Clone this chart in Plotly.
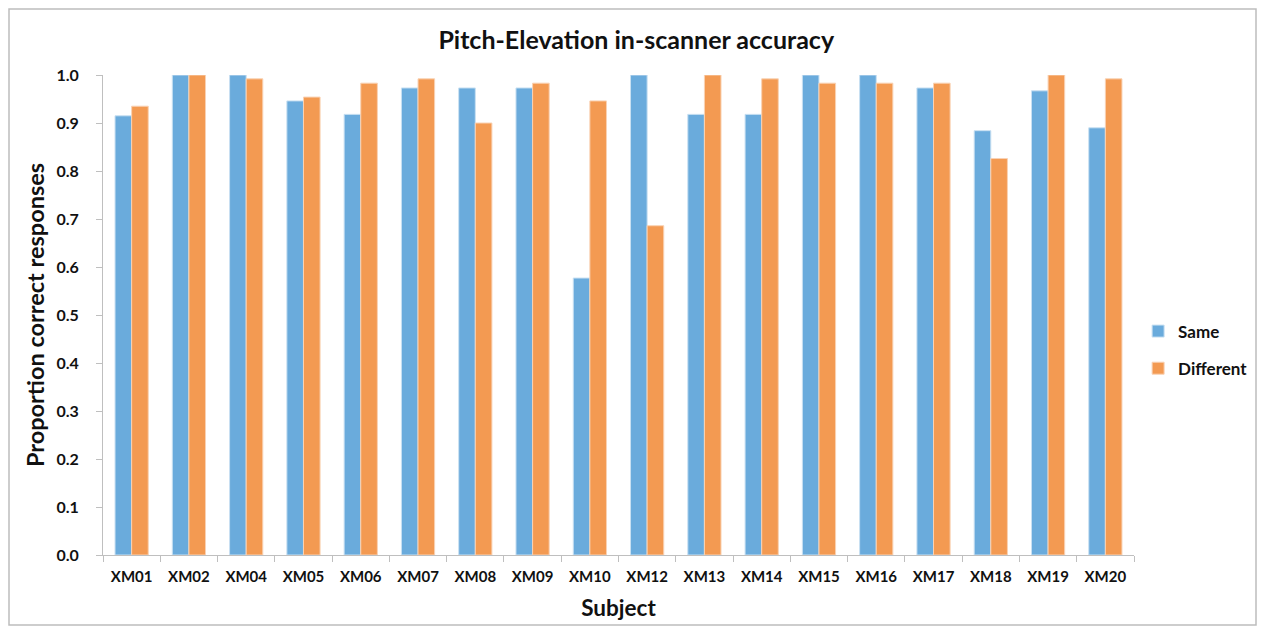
import plotly.graph_objects as go

subjects = ["XM01", "XM02", "XM04", "XM05", "XM06", "XM07", "XM08", "XM09", "XM10",
            "XM12", "XM13", "XM14", "XM15", "XM16", "XM17", "XM18", "XM19", "XM20"]
same = [0.915, 1.0, 1.0, 0.946, 0.918, 0.973, 0.973, 0.973, 0.577,
        1.0, 0.918, 0.918, 1.0, 1.0, 0.973, 0.884, 0.967, 0.890]
different = [0.935, 1.0, 0.992, 0.954, 0.983, 0.992, 0.900, 0.983, 0.946,
             0.686, 1.0, 0.992, 0.983, 0.983, 0.983, 0.826, 1.0, 0.992]
y_ticks = [i / 10 for i in range(11)]

FONT = "Lato"
W, H = 1249, 618
L, R, T, B = 95, 123, 67, 71
PW, PH = W - L - R, H - T - B

fig = go.Figure()
fig.add_trace(go.Bar(name="Same", x=subjects, y=same, legendgroup="a",
                     marker=dict(color="#6AABDC", line=dict(color="#C9E0F2", width=1))))
fig.add_trace(go.Bar(name="Different", x=subjects, y=different, legendgroup="b",
                     marker=dict(color="#F39A52", line=dict(color="#F9D2B4", width=1))))

fig.update_layout(
    width=W, height=H,
    margin=dict(l=L, r=R, t=T, b=B, autoexpand=False),
    paper_bgcolor="white", plot_bgcolor="white",
    barmode="group", bargap=0.42, bargroupgap=0.0,
    title=dict(text="Pitch-Elevation in-scanner accuracy", x=0.503, xanchor="center",
               y=1 - 32 / H, yanchor="middle",
               font=dict(family=FONT, size=25, color="#111", weight="bold")),
    legend=dict(x=1.004, y=0.427, xanchor="left", yanchor="middle",
                font=dict(family=FONT, size=17, color="#111", weight="bold"),
                itemwidth=30, tracegroupgap=12, traceorder="grouped",
                bgcolor="rgba(0,0,0,0)"),
    font=dict(family=FONT, color="#111"),
    showlegend=True,
)
fig.update_yaxes(
    range=[0, 1.0], tickvals=y_ticks, tickformat=".1f",
    showgrid=False, zeroline=False,
    showline=True, linecolor="#BFBFBF", linewidth=1,
    ticks="outside", ticklen=6, tickcolor="#BFBFBF", ticklabelstandoff=14,
    tickfont=dict(family=FONT, size=16, color="#111", weight="bold"),
    title=dict(text="Proportion correct responses", standoff=5,
               font=dict(family=FONT, size=23.5, color="#111", weight="bold")),
)
fig.update_xaxes(
    showgrid=False, showline=True, linecolor="#BFBFBF", linewidth=1,
    ticks="outside", ticklen=6, tickcolor="#BFBFBF", tickson="boundaries",
    ticklabelstandoff=8,
    tickfont=dict(family=FONT, size=15, color="#111", weight="bold"),
    title=dict(text="Subject", standoff=16,
               font=dict(family=FONT, size=22.5, color="#111", weight="bold")),
)
# outer frame
fig.add_shape(type="rect", xref="paper", yref="paper",
              x0=-(L - 1) / PW, x1=1 + (R - 1) / PW, y0=-(B - 1) / PH, y1=1 + (T - 1) / PH,
              line=dict(color="#BDBDBD", width=1.5), fillcolor="rgba(0,0,0,0)", layer="below")

fig.write_html("out.html")
